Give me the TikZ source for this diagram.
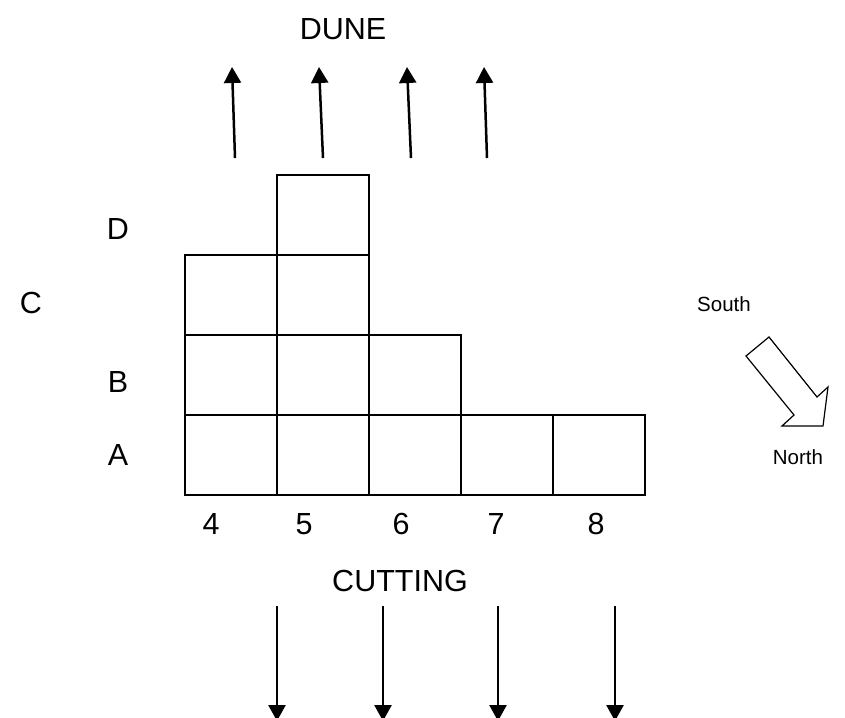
\documentclass[tikz,border=0pt]{standalone}
\usepackage{fontspec}
\setmainfont{Liberation Sans}
\usetikzlibrary{arrows.meta}
\begin{document}
\begin{tikzpicture}[x=1pt,y=-1pt,
  cell/.style={draw,line width=1.6pt,minimum width=92pt,minimum height=80pt,inner sep=0pt},
  big/.style={font=\fontsize{30.5}{34}\selectfont,inner sep=0pt},
  small/.style={font=\fontsize{20.5}{24}\selectfont,inner sep=0pt},
  flow/.style={line width=2.5pt,-{Triangle[length=16pt,width=17pt]}}]
\useasboundingbox (0,0) rectangle (845,717);
% grid cells
\node[cell] (a4) at (231,455) {};
\node[cell] (a5) at (323,455) {};
\node[cell] (a6) at (415,455) {};
\node[cell] (a7) at (507,455) {};
\node[cell] (a8) at (599,455) {};
\node[cell] (b4) at (231,375) {};
\node[cell] (b5) at (323,375) {};
\node[cell] (b6) at (415,375) {};
\node[cell] (c4) at (231,295) {};
\node[cell] (c5) at (323,295) {};
\node[cell] (d5) at (323,215) {};
% labels
\node[big] (dune) at (343,29) {DUNE};
\node[big] (cutting) at (400,581) {CUTTING};
\node[big] (lD) at (118,229) {D};
\node[big] (lC) at (31,303) {C};
\node[big] (lB) at (118,382) {B};
\node[big] (lA) at (118,455) {A};
\node[big] (n4) at (211,524) {4};
\node[big] (n5) at (304,524) {5};
\node[big] (n6) at (401,524) {6};
\node[big] (n7) at (496,524) {7};
\node[big] (n8) at (596,524) {8};
\node[small] (south) at (724,304) {South};
\node[small] (north) at (798,457) {North};
% up arrows
\coordinate (u1s) at (235,158); \coordinate (u1e) at (232,67);
\coordinate (u2s) at (323,158); \coordinate (u2e) at (319,67);
\coordinate (u3s) at (411,158); \coordinate (u3e) at (407,67);
\coordinate (u4s) at (487,158); \coordinate (u4e) at (484,67);
\draw[flow] (u1s) -- (u1e);
\draw[flow] (u2s) -- (u2e);
\draw[flow] (u3s) -- (u3e);
\draw[flow] (u4s) -- (u4e);
% down arrows
\coordinate (d1s) at (277,606); \coordinate (d1e) at (277,721);
\coordinate (d2s) at (383,606); \coordinate (d2e) at (383,721);
\coordinate (d3s) at (498,606); \coordinate (d3e) at (498,721);
\coordinate (d4s) at (615,606); \coordinate (d4e) at (615,721);
\draw[flow] (d1s) -- (d1e);
\draw[flow] (d2s) -- (d2e);
\draw[flow] (d3s) -- (d3e);
\draw[flow] (d4s) -- (d4e);
% hollow block arrow
\coordinate (h1) at (746,356);
\coordinate (h2) at (769,337);
\coordinate (h3) at (817,397);
\coordinate (h4) at (828,387);
\coordinate (h5) at (823,426);
\coordinate (h6) at (782,426);
\coordinate (h7) at (794,415);
\draw[line width=1.2pt,line join=miter] (h1) -- (h2) -- (h3) -- (h4) -- (h5) -- (h6) -- (h7) -- cycle;
\end{tikzpicture}
\end{document}
